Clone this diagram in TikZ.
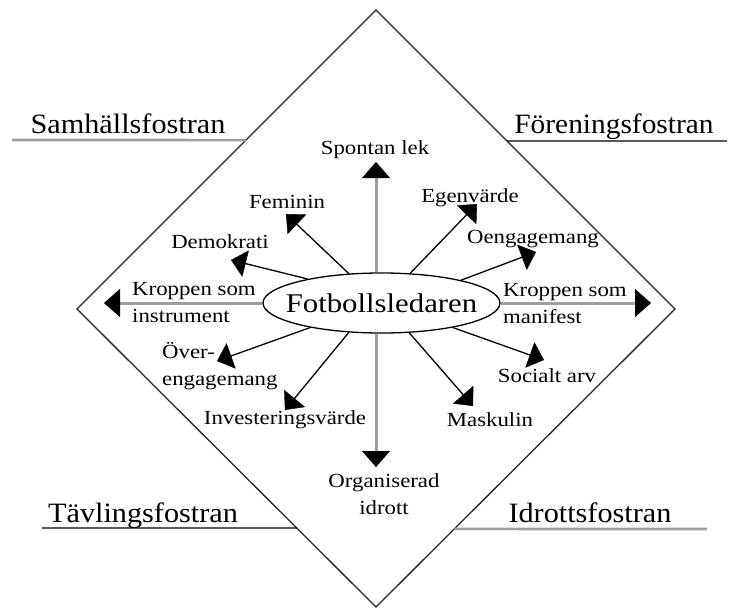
\documentclass[tikz,border=0pt]{standalone}
\usepackage{fontspec}
\setmainfont{Liberation Serif}
\usepackage{graphicx}
\usetikzlibrary{shapes.geometric,arrows.meta,calc}
\newcommand{\sx}[2][1.14]{\scalebox{#1}[1]{#2}}
\begin{document}
\begin{tikzpicture}[x=1pt,y=-1pt,
  lbl/.style={font=\fontsize{20}{27}\selectfont, inner sep=0pt},
  big/.style={font=\fontsize{28}{32}\selectfont, inner sep=0pt},
  blkarrow/.style={draw=black, line width=1.3pt, -{Triangle[length=15pt,width=27pt,line width=0.4pt]}},
  gryarrow/.style={draw=black!38, line width=3pt, -{Triangle[length=16pt,width=28pt,line width=0.4pt,color=black]}},
  gline/.style={draw=black!38, line width=2.6pt},
  kline/.style={draw=black, line width=1.4pt},
  frame/.style={draw=black!85, line width=1.3pt}
]
\useasboundingbox (0,0) rectangle (729,608);
% diamond
\coordinate (T) at (376,10);
\coordinate (R) at (675,309);
\coordinate (B) at (376,607);
\coordinate (L) at (77,309);
\draw[frame] (T) -- (R) -- (B) -- (L) -- cycle;

% corner labels and underlines
\coordinate (s0) at (12,140);
\coordinate (s1) at ($(T)!0.435!(L)$);
\draw[gline] (s0) -- (s1);
\node[big, anchor=base] (sam) at (128,133) {\sx[1.08]{Samhällsfostran}};

\coordinate (f1) at ($(T)!0.438!(R)$);
\coordinate (f0) at (727,141);
\draw[kline] (f1) -- (f0);
\node[big, anchor=base] (for) at (614,133) {\sx[1.05]{Föreningsfostran}};

\coordinate (v0) at (42,528);
\coordinate (v1) at ($(L)!0.735!(B)$);
\draw[kline] (v0) -- (v1);
\node[big, anchor=base] (tav) at (143,522) {\sx[1.08]{Tävlingsfostran}};

\coordinate (i1) at ($(R)!0.738!(B)$);
\coordinate (i0) at (707,529);
\draw[gline] (i1) -- (i0);
\node[big, anchor=base] (idr) at (590,522) {\sx[1.08]{Idrottsfostran}};

% centre ellipse
\node[draw=black, line width=1.3pt, ellipse, minimum width=237pt, minimum height=60pt,
      inner xsep=-12pt, inner ysep=0pt, font=\fontsize{27}{30}\selectfont] (fb) at (381.5,303) {\sx{Fotbollsledaren}};

% arrow tips
\coordinate (tUp) at (376,162);
\coordinate (tDn) at (376,467);
\coordinate (tL) at (104,303);
\coordinate (tR) at (651,303);
\coordinate (tFem) at (286,214);
\coordinate (tDem) at (231,260);
\coordinate (tEg) at (477,204);
\coordinate (tOe) at (536,252);
\coordinate (tOv) at (217,361);
\coordinate (tInv) at (285,410);
\coordinate (tSoc) at (544,360);
\coordinate (tMas) at (473,406);

% gray axis arrows
\draw[gryarrow] (fb.north -| tUp) -- (tUp);
\draw[gryarrow] (fb.south -| tDn) -- (tDn);
\draw[gryarrow] (fb.west) -- (tL);
\draw[gryarrow] (fb.east) -- (tR);

% black diagonal arrows
\draw[blkarrow] (fb.138.4) -- (tFem);
\draw[blkarrow] (fb.162.6) -- (tDem);
\draw[blkarrow] (fb.46.6) -- (tEg);
\draw[blkarrow] (fb.16) -- (tOe);
\draw[blkarrow] (fb.199.4) -- (tOv);
\draw[blkarrow] (fb.222.8) -- (tInv);
\draw[blkarrow] (fb.341.2) -- (tSoc);
\draw[blkarrow] (fb.313.6) -- (tMas);

% labels
\node[lbl, anchor=base] (spl) at (375,154) {\sx{Spontan lek}};
\node[lbl, anchor=base] (fem) at (287,208) {\sx{Feminin}};
\node[lbl, anchor=base] (egv) at (470,202) {\sx{Egenvärde}};
\node[lbl, anchor=base] (dem) at (220,248) {\sx{Demokrati}};
\node[lbl, anchor=base] (oen) at (533,243) {\sx{Oengagemang}};
\node[lbl, anchor=base west] (kri) at (132,295) {\sx{\begin{tabular}[t]{@{}l@{}}Kroppen som\\instrument\end{tabular}}};
\node[lbl, anchor=base west] (krm) at (503,296) {\sx{\begin{tabular}[t]{@{}l@{}}Kroppen som\\manifest\end{tabular}}};
\node[lbl, anchor=base west] (ove) at (162,358) {\sx{\begin{tabular}[t]{@{}l@{}}Över-\\engagemang\end{tabular}}};
\node[lbl, anchor=base] (inv) at (285,424) {\sx{Investeringsvärde}};
\node[lbl, anchor=base] (org) at (384,487) {\sx{\begin{tabular}[t]{@{}c@{}}Organiserad\\idrott\end{tabular}}};
\node[lbl, anchor=base] (soc) at (547,382) {\sx{Socialt arv}};
\node[lbl, anchor=base] (mas) at (490,426) {\sx{Maskulin}};
\end{tikzpicture}
\end{document}
